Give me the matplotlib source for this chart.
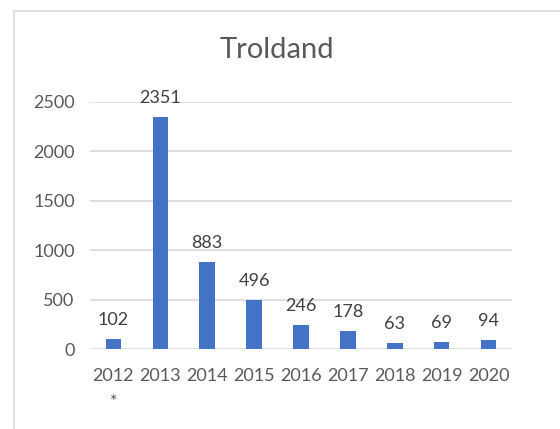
import matplotlib.pyplot as plt
from matplotlib.patches import Rectangle

years = ["2012\n*", "2013", "2014", "2015", "2016", "2017", "2018", "2019", "2020"]
counts = [102, 2351, 883, 496, 246, 178, 63, 69, 94]
yticks = [0, 500, 1000, 1500, 2000, 2500]

plt.rcParams['font.family'] = ['Lato', 'DejaVu Sans']

fig = plt.figure(figsize=(5.6, 4.29), dpi=100)
ax = fig.add_axes([90/560, 1 - 349/429, 422/560, 247/429])

# chart frame (only left and top edges visible in the crop)
fig.patches.append(Rectangle((14/560, -0.2), 1.2, 1.2 - 11/429, transform=fig.transFigure,
                             fill=False, edgecolor='#d9d9d9', linewidth=1.2))

x = list(range(len(years)))
ax.bar(x, counts, width=0.33, color='#4472C4', zorder=3)

for xi, v in zip(x, counts):
    ax.annotate(str(v), (xi, v), xytext=(0, 8), textcoords='offset points',
                ha='center', va='bottom', fontsize=13, color='#404040', annotation_clip=False)

ax.set_xlim(-0.5, len(years) - 0.5)
ax.set_ylim(0, 2500)
ax.set_yticks(yticks)
ax.set_xticks(x)
ax.set_xticklabels(years, linespacing=1.75, fontsize=13.5)
ax.tick_params(axis='both', length=0, labelsize=13, labelcolor='#595959')
ax.tick_params(axis='x', pad=14)
ax.tick_params(axis='y', pad=11)
ax.grid(axis='y', color='#d9d9d9', linewidth=1.2, zorder=0)
for s in ax.spines.values():
    s.set_visible(False)

fig.text(277/560, 1 - 50/429, "Troldand", ha='center', va='center', fontsize=21, color='#595959')

fig.savefig("out.png", dpi=100)
